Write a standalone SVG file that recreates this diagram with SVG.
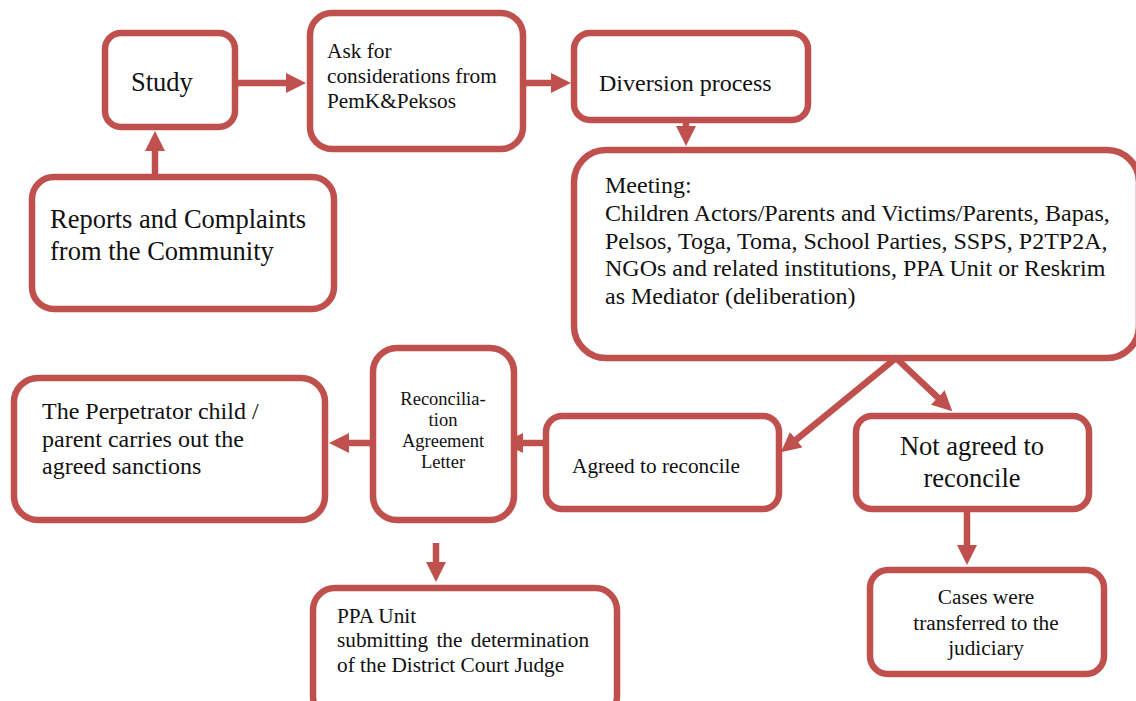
<svg xmlns="http://www.w3.org/2000/svg" width="1136" height="701" viewBox="0 0 1136 701">
<style>
.box{fill:#fff;stroke:#C0504D;stroke-width:6.5}
.c{stroke:#C0504D;stroke-width:6.5;fill:none}
text{font-family:"Liberation Serif","Times New Roman",serif;fill:#111}
.f26{font-size:26.5px}.f24{font-size:24px}.f21{font-size:21.3px}.f18{font-size:18.5px}
.m{text-anchor:middle}
</style>
<defs>
<marker id="ah" markerUnits="userSpaceOnUse" viewBox="0 0 20 20" refX="1" refY="10" markerWidth="20" markerHeight="20" orient="auto">
<path d="M0,0 L20,10 L0,20 z" fill="#C0504D"/>
</marker>
</defs>
<rect width="1136" height="701" fill="#fff"/>
<g id="connectors">
<line class="c" x1="155" y1="177" x2="155" y2="150" marker-end="url(#ah)"/>
<line class="c" x1="235" y1="83" x2="287" y2="83" marker-end="url(#ah)"/>
<line class="c" x1="523" y1="83" x2="552" y2="83" marker-end="url(#ah)"/>
<line class="c" x1="686" y1="120" x2="686" y2="127" marker-end="url(#ah)"/>
<line class="c" x1="896" y1="358" x2="795.5" y2="440.3" marker-end="url(#ah)"/>
<line class="c" x1="896" y1="358" x2="938.5" y2="398.2" marker-end="url(#ah)"/>
<line class="c" x1="546" y1="443" x2="522" y2="443" marker-end="url(#ah)"/>
<line class="c" x1="373" y1="443" x2="348" y2="443" marker-end="url(#ah)"/>
<line class="c" x1="436" y1="543" x2="436" y2="563" marker-end="url(#ah)"/>
<line class="c" x1="967" y1="509" x2="967" y2="546" marker-end="url(#ah)"/>
</g>
<g id="study">
<rect class="box" x="105" y="33" width="130" height="94" rx="16"/>
<text class="f26" x="131" y="91">Study</text>
</g>
<g id="ask">
<rect class="box" x="310" y="13" width="213" height="136" rx="22"/>
<text class="f21" x="327" y="58">Ask for</text>
<text class="f21" x="327" y="83">considerations from</text>
<text class="f21" x="327" y="108">PemK&amp;Peksos</text>
</g>
<g id="diversion">
<rect class="box" x="574" y="33" width="234" height="87" rx="16"/>
<text class="f24" x="599" y="91">Diversion process</text>
</g>
<g id="reports">
<rect class="box" x="32" y="177" width="302" height="132" rx="22"/>
<text class="f26" x="50" y="228">Reports and Complaints</text>
<text class="f26" x="50" y="259.5">from the Community</text>
</g>
<g id="meeting">
<rect class="box" x="574" y="150" width="565" height="208" rx="32"/>
<text class="f24" x="605" y="193">Meeting:</text>
<text class="f24" x="605" y="221">Children Actors/Parents and Victims/Parents, Bapas,</text>
<text class="f24" x="605" y="248.5">Pelsos, Toga, Toma, School Parties, SSPS, P2TP2A,</text>
<text class="f24" x="605" y="276">NGOs and related institutions, PPA Unit or Reskrim</text>
<text class="f24" x="605" y="303.5">as Mediator (deliberation)</text>
</g>
<g id="perpetrator">
<rect class="box" x="14" y="378" width="311" height="142" rx="24"/>
<text class="f24" x="42" y="419">The Perpetrator child /</text>
<text class="f24" x="42" y="446.5">parent carries out the</text>
<text class="f24" x="42" y="474">agreed sanctions</text>
</g>
<g id="reconciliation">
<rect class="box" x="373" y="348" width="141" height="172" rx="24"/>
<text class="f18 m" x="443" y="405">Reconcilia-</text>
<text class="f18 m" x="443" y="426">tion</text>
<text class="f18 m" x="443" y="447">Agreement</text>
<text class="f18 m" x="443" y="468">Letter</text>
</g>
<g id="agreed">
<rect class="box" x="546" y="416" width="233" height="93" rx="16"/>
<text class="f21" x="572" y="473">Agreed to reconcile</text>
</g>
<g id="not-agreed">
<rect class="box" x="856" y="416" width="233" height="93" rx="16"/>
<text class="f26 m" x="972" y="455">Not agreed to</text>
<text class="f26 m" x="972" y="487">reconcile</text>
</g>
<g id="ppa">
<rect class="box" x="313" y="588" width="304" height="130" rx="22"/>
<text class="f21" x="337" y="623">PPA Unit</text>
<text class="f21" x="337" y="647" word-spacing="3">submitting the determination</text>
<text class="f21" x="337" y="672">of the District Court Judge</text>
</g>
<g id="cases">
<rect class="box" x="870" y="570" width="234" height="104" rx="18"/>
<text class="f21 m" x="986" y="604">Cases were</text>
<text class="f21 m" x="986" y="630">transferred to the</text>
<text class="f21 m" x="986" y="655">judiciary</text>
</g>
</svg>
